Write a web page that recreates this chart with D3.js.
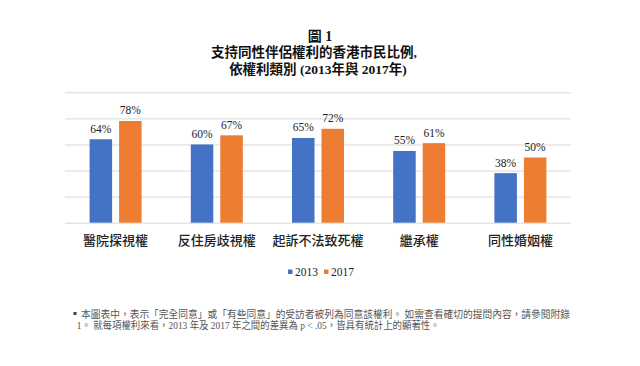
<!DOCTYPE html>
<html>
<head>
<meta charset="utf-8">
<script src="https://cdn.jsdelivr.net/npm/d3@7"></script>
<style>
  body { margin: 0; background: #fff; }
</style>
</head>
<body>
<div id="chart_area"></div>
<script>
// data
const categories = ['醫院探視權', '反住房歧視權', '起訴不法致死權', '繼承權', '同性婚姻權'];
const seriesNames = ['2013', '2017'];
const values2013 = [64, 60, 65, 55, 38];
const values2017 = [78, 67, 72, 61, 50];
const yTicks = [0, 20, 40, 60, 80, 100];
const titleLines = ['圖 1', '支持同性伴侶權利的香港市民比例,', '依權利類別 (2013年與 2017年)'];
const noteLines = [
  '本圖表中，表示「完全同意」或「有些同意」的受訪者被列為同意該權利。 如需查看確切的提問內容，請參閱附錄',
  '1。 就每項權利來看，2013 年及 2017 年之間的差異為 p < .05，皆具有統計上的顯著性。'
];
const colors = ['#4472C4', '#ED7D31'];

const width = 640;
const height = 366;
const plot = { left: 65, right: 571, top: 92.3, bottom: 222.7 };
const serif = "'Liberation Serif', 'Noto Sans CJK TC', serif";

const svg = d3
  .select('#chart_area')
  .append('svg')
  .attr('width', width)
  .attr('height', height);

// title
const titleY = [41, 57, 73.5];
const titleX = [320, 314, 318];
titleLines.forEach((line, i) => {
  svg
    .append('text')
    .attr('x', titleX[i])
    .attr('y', titleY[i])
    .attr('text-anchor', 'middle')
    .attr('font-family', serif)
    .attr('font-size', i === 0 ? 14 : 13.5)
    .attr('font-weight', 'bold')
    .attr('fill', '#111')
    .text(line);
});

const x0 = d3
  .scaleBand()
  .domain(categories)
  .range([plot.left, plot.right])
  .paddingInner(0.486)
  .paddingOuter(0.243);
const x1 = d3
  .scaleBand()
  .domain(seriesNames)
  .range([0, x0.bandwidth()])
  .paddingInner(0.237);
const y = d3.scaleLinear().domain([0, 100]).range([plot.bottom, plot.top]);

// gridlines
const grid = svg
  .append('g')
  .attr('transform', `translate(${plot.left},0)`)
  .call(
    d3
      .axisLeft(y)
      .tickValues(yTicks)
      .tickSize(-(plot.right - plot.left))
      .tickFormat('')
  );
grid.select('.domain').remove();
grid.selectAll('.tick line').attr('stroke', '#d9d9d9').attr('stroke-width', 1);

// bars
const rows = categories.map((c, i) => ({
  cat: c,
  vals: [
    { s: seriesNames[0], v: values2013[i] },
    { s: seriesNames[1], v: values2017[i] }
  ]
}));

const groups = svg
  .append('g')
  .selectAll('g')
  .data(rows)
  .join('g')
  .attr('transform', (d) => `translate(${x0(d.cat)},0)`);

groups
  .selectAll('rect')
  .data((d) => d.vals)
  .join('rect')
  .attr('x', (d) => x1(d.s))
  .attr('y', (d) => y(d.v))
  .attr('width', x1.bandwidth())
  .attr('height', (d) => y(0) - y(d.v))
  .attr('fill', (d, i) => colors[i]);

groups
  .selectAll('text')
  .data((d) => d.vals)
  .join('text')
  .attr('x', (d) => x1(d.s) + x1.bandwidth() / 2)
  .attr('y', (d) => y(d.v) - 6.5)
  .attr('text-anchor', 'middle')
  .attr('font-family', serif)
  .attr('font-size', 11.5)
  .attr('fill', '#222')
  .text((d) => d.v + '%');

// category labels
const xAxis = svg
  .append('g')
  .attr('transform', `translate(0,${plot.bottom})`)
  .call(d3.axisBottom(x0).tickSize(0).tickPadding(0));
xAxis.select('.domain').remove();
xAxis
  .selectAll('text')
  .attr('dy', 0)
  .attr('y', 22.5)
  .attr('font-family', "'Noto Sans CJK TC', sans-serif")
  .attr('font-size', 13)
  .attr('font-weight', 500)
  .attr('fill', '#222');

// legend
const legendX = [288, 324];
const legend = svg
  .append('g')
  .selectAll('g')
  .data(seriesNames)
  .join('g')
  .attr('transform', (d, i) => `translate(${legendX[i]},0)`);
legend
  .append('rect')
  .attr('x', 0)
  .attr('y', 269.5)
  .attr('width', 4.5)
  .attr('height', 4.5)
  .attr('fill', (d, i) => colors[i]);
legend
  .append('text')
  .attr('x', 7)
  .attr('y', 275.7)
  .attr('font-family', serif)
  .attr('font-size', 11.5)
  .attr('fill', '#222')
  .text((d) => d);

// footnote
svg
  .append('rect')
  .attr('x', 73.5)
  .attr('y', 312)
  .attr('width', 3)
  .attr('height', 3)
  .attr('fill', '#444');
const noteX = [81, 76.7];
const noteY = [318, 329];
const noteLen = [489, 363];
noteLines.forEach((line, i) => {
  svg
    .append('text')
    .attr('x', noteX[i])
    .attr('y', noteY[i])
    .attr('font-family', serif)
    .attr('font-size', 10)
    .attr('textLength', noteLen[i])
    .attr('lengthAdjust', 'spacingAndGlyphs')
    .attr('fill', '#555')
    .text(line);
});
</script>
</body>
</html>
